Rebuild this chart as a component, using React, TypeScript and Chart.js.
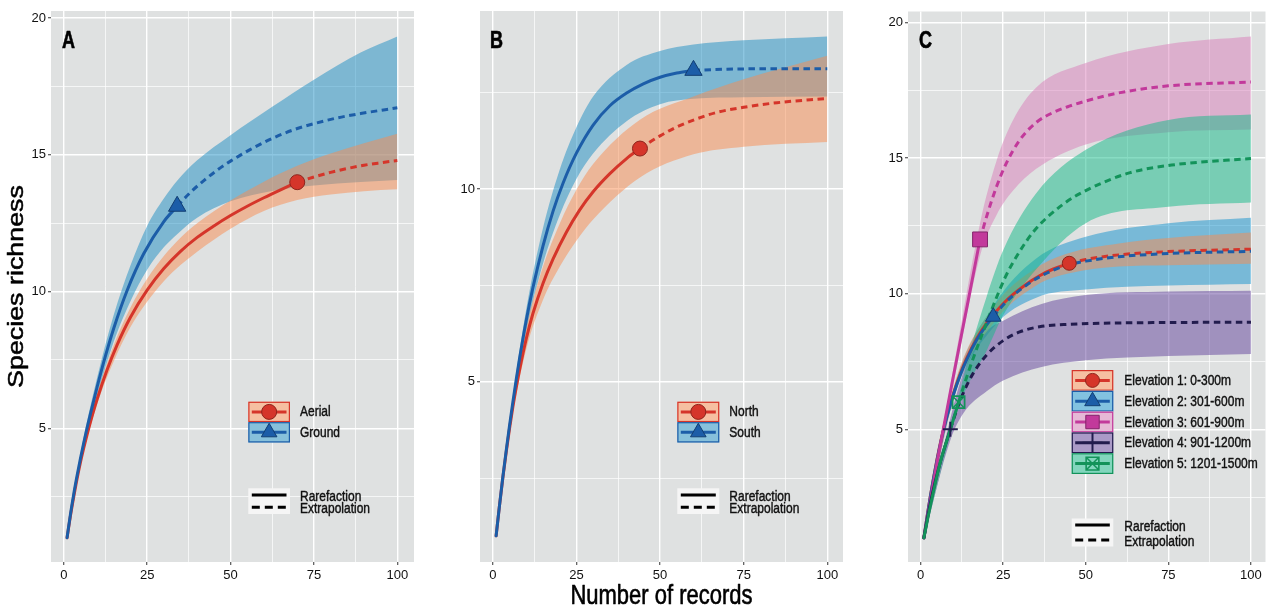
import React, { useEffect, useRef } from 'react';
import { Chart, registerables } from 'chart.js';

Chart.register(...registerables);

const FONT = "'Liberation Sans', Arial, Helvetica, sans-serif";
const TEXT_STRETCH = 1.22;
const PANEL_BG = '#DFE1E1';

// ---- tick values ----
const X_MAJOR = [0, 25, 50, 75, 100];
const X_MINOR = [12.5, 37.5, 62.5, 87.5];
const Y_MAJOR_AC = [5, 10, 15, 20];
const Y_MINOR_AC = [2.5, 7.5, 12.5, 17.5];
const Y_MAJOR_B = [5, 10];
const Y_MINOR_B = [2.5, 7.5, 12.5];

// ---- Panel A : Aerial / Ground ----
const aerialRareX = [1, 2, 3, 4, 5, 6, 7, 8, 10, 13, 16, 20, 25, 30, 35, 40, 45, 50, 55, 60, 65, 70];
const aerialRareY = [1, 1.79, 2.5, 3.16, 3.75, 4.28, 4.77, 5.23, 6.06, 7.14, 8.05, 9.06, 10.05, 10.84, 11.47, 11.98, 12.4, 12.78, 13.12, 13.43, 13.72, 14.0];
const aerialExtX = [70, 75, 80, 85, 90, 95, 100];
const aerialExtY = [14.0, 14.19, 14.36, 14.5, 14.62, 14.71, 14.79];
const aerialBandX = [1, 5, 10, 15, 20, 25, 30, 35, 40, 50, 60, 70, 80, 90, 100];
const aerialBandLo = [1, 3.65, 5.87, 7.45, 8.7, 9.63, 10.38, 10.97, 11.46, 12.3, 12.95, 13.35, 13.55, 13.67, 13.74];
const aerialBandHi = [1, 3.85, 6.25, 8.05, 9.42, 10.47, 11.3, 11.97, 12.5, 13.33, 14.02, 14.6, 15.05, 15.42, 15.77];

const groundRareX = [1, 2, 3, 4, 5, 6, 7, 8, 10, 12, 15, 19, 24, 30, 34];
const groundRareY = [1, 1.85, 2.6, 3.27, 3.89, 4.47, 5.02, 5.53, 6.51, 7.43, 8.66, 10.04, 11.39, 12.56, 13.12];
const groundExtX = [34, 38, 42, 46, 50, 56, 62.5, 69, 75, 82, 89, 100];
const groundExtY = [13.12, 13.63, 14.06, 14.44, 14.77, 15.2, 15.6, 15.92, 16.14, 16.35, 16.51, 16.72];
const groundBandX = [1, 5, 10, 15, 20, 25, 30, 34, 40, 50, 62.5, 75, 89, 100];
const groundBandLo = [1, 3.73, 6.17, 8.17, 9.65, 10.8, 11.62, 12.1, 12.7, 13.3, 13.68, 13.88, 14.01, 14.08];
const groundBandHi = [1, 4.05, 6.85, 9.15, 10.95, 12.4, 13.4, 14.05, 14.8, 15.72, 16.76, 17.75, 18.74, 19.33];

// ---- Panel B : North / South ----
const northRareX = [1, 2, 3, 4, 5, 6, 7, 8, 10, 12, 15, 18, 22, 26, 30, 35, 40, 44];
const northRareY = [1, 1.78, 2.5, 3.16, 3.78, 4.34, 4.84, 5.3, 6.11, 6.77, 7.55, 8.18, 8.88, 9.46, 9.93, 10.4, 10.79, 11.05];
const northExtX = [44, 50, 55, 60, 67, 75, 85, 100];
const northExtY = [11.05, 11.38, 11.61, 11.79, 11.99, 12.12, 12.24, 12.35];
const northBandX = [1, 5, 10, 15, 20, 25, 30, 44, 60, 75, 100];
const northBandLo = [1, 3.66, 5.84, 7.12, 7.98, 8.66, 9.21, 10.3, 10.9, 11.1, 11.22];
const northBandHi = [1, 3.9, 6.38, 7.98, 9.1, 9.98, 10.65, 11.8, 12.4, 12.85, 13.46];

const southRareX = [1, 2, 3, 4, 5, 6, 7, 8, 10, 12, 15, 18, 21, 25, 30, 35, 40, 45, 50, 55, 60];
const southRareY = [1, 1.78, 2.52, 3.2, 3.86, 4.47, 5.05, 5.6, 6.59, 7.44, 8.52, 9.42, 10.15, 10.93, 11.66, 12.16, 12.49, 12.73, 12.9, 13.01, 13.08];
const southExtX = [60, 70, 80, 100];
const southExtY = [13.08, 13.11, 13.12, 13.12];
const southBandX = [1, 5, 10, 15, 20, 25, 30, 40, 50, 60, 75, 100];
const southBandLo = [1, 3.74, 6.3, 8.06, 9.32, 10.26, 10.92, 11.76, 12.2, 12.34, 12.38, 12.4];
const southBandHi = [1, 3.98, 6.88, 8.98, 10.5, 11.6, 12.4, 13.22, 13.58, 13.75, 13.86, 13.96];

// ---- Panel C : Elevations ----
const e1RareX = [1, 2, 3, 4, 5, 6, 7, 8, 10, 12, 14, 17, 20, 22, 25, 28, 32, 36, 40, 45];
const e1RareY = [1, 1.82, 2.57, 3.26, 3.91, 4.5, 5.04, 5.51, 6.34, 7.04, 7.63, 8.35, 8.91, 9.22, 9.63, 9.97, 10.35, 10.66, 10.9, 11.12];
const e1ExtX = [45, 50, 60, 75, 100];
const e1ExtY = [11.12, 11.26, 11.43, 11.55, 11.64];
const e1BandX = [1, 10, 22, 35, 45, 60, 75, 100];
const e1BandLo = [1, 6.15, 8.9, 10.3, 10.75, 11.0, 11.05, 11.1];
const e1BandHi = [1, 6.55, 9.5, 10.95, 11.5, 11.85, 12.05, 12.25];

const e2RareX = [1, 2, 3, 4, 5, 6, 7, 8, 10, 12, 14, 17, 20, 22];
const e2RareY = [1, 1.8, 2.55, 3.24, 3.88, 4.47, 5.0, 5.48, 6.3, 7.0, 7.58, 8.3, 8.85, 9.15];
const e2ExtX = [22, 25, 28, 32, 36, 40, 45, 50, 60, 75, 100];
const e2ExtY = [9.15, 9.58, 9.93, 10.31, 10.62, 10.86, 11.07, 11.2, 11.36, 11.48, 11.56];
const e2BandX = [1, 10, 22, 35, 50, 75, 100];
const e2BandLo = [1, 6.1, 8.75, 9.85, 10.15, 10.3, 10.36];
const e2BandHi = [1, 6.5, 9.55, 11.3, 12.1, 12.6, 12.8];

const e3RareX = [1, 5, 10, 14.5, 18];
const e3RareY = [1, 3.8, 7.0, 9.8, 12];
const e3ExtX = [18, 20, 23, 26, 30, 35, 40, 45, 50, 60, 75, 100];
const e3ExtY = [12, 12.85, 13.95, 14.82, 15.66, 16.31, 16.67, 16.91, 17.1, 17.4, 17.66, 17.8];
const e3BandX = [1, 10, 18, 23, 28, 35, 50, 75, 100];
const e3BandLo = [1, 6.7, 11.4, 12.9, 13.8, 14.6, 15.5, 15.95, 16.05];
const e3BandHi = [1, 7.3, 12.6, 14.9, 16.4, 17.6, 18.5, 19.2, 19.48];

const e4RareX = [1, 3, 6, 9];
const e4RareY = [1, 2.3, 3.8, 5];
const e4ExtX = [9, 11, 13, 16, 20, 25, 30, 36, 45, 60, 80, 100];
const e4ExtY = [5, 5.74, 6.36, 7.08, 7.74, 8.27, 8.59, 8.78, 8.87, 8.92, 8.94, 8.95];
const e4BandX = [1, 9, 13, 20, 25, 36.6, 50, 75, 100];
const e4BandLo = [1, 4.6, 5.6, 6.4, 6.8, 7.3, 7.55, 7.7, 7.78];
const e4BandHi = [1, 5.4, 7.1, 8.6, 9.0, 9.62, 9.95, 10.08, 10.11];

const e5RareX = [1, 3, 6, 9, 11.5];
const e5RareY = [1, 2.2, 3.8, 5.0, 6.0];
const e5ExtX = [11.5, 15, 19.9, 25.6, 29.5, 34.4, 43.2, 50, 63.2, 76, 100];
const e5ExtY = [6, 7.3, 8.9, 10.6, 11.46, 12.32, 13.3, 13.8, 14.45, 14.74, 14.98];
const e5BandX = [1, 11.5, 15, 20, 25, 35, 50, 75, 100];
const e5BandLo = [1, 5.8, 6.8, 7.9, 9.2, 10.9, 12.6, 13.2, 13.36];
const e5BandHi = [1, 6.2, 7.9, 9.9, 11.6, 13.7, 15.3, 16.4, 16.6];

// ---- colours ----
const RED = '#D5352A', RED_DARK = '#8E241C', RED_FILL = 'rgba(249,139,79,0.5)';
const BLUE = '#1C5DA8', BLUE_DARK = '#123E72', BLUE_FILL_A = 'rgba(27,141,195,0.5)';
const BLUE_FILL_C = 'rgba(17,145,205,0.5)';
const MAGENTA = '#C2399B', MAGENTA_DARK = '#83246A', PINK_FILL = 'rgba(217,125,185,0.5)';
const NAVY = '#221C4E', PURPLE_FILL = 'rgba(97,65,155,0.5)';
const GREEN = '#13935A', TEAL_FILL = 'rgba(17,185,135,0.5)';

type MarkerKind = 'circle' | 'triangle' | 'rect' | 'cross' | 'rectX';

interface SeriesSpec {
  label: string; line: string; dark: string; fill: string;
  marker: MarkerKind; plotR: number; legendR: number;
  rareX: number[]; rareY: number[]; extX: number[]; extY: number[];
  bandX: number[]; bandLo: number[]; bandHi: number[];
}

interface LegendSpec {
  boxX: number; boxW: number; rowTop: number; rowH: number; textX: number;
  ltY: number; ltH: number; solidY: number; dashY: number; rarefTextY: number; extrapTextY: number;
}

interface PanelSpec {
  letter: string; letterX: number; left: number; width: number; yAxisW: number; padRight: number;
  xMin: number; xMax: number; yMin: number; yMax: number;
  yMajor: number[]; yMinor: number[];
  series: SeriesSpec[]; ribbonOrder: number[];
  legend: LegendSpec;
  yTitle?: string; xTitle?: string;
}

const PANELS: PanelSpec[] = [
  {
    letter: 'A', letterX: 62, left: 0, width: 425, yAxisW: 51, padRight: 4,
    xMin: -3.82, xMax: 105, yMin: 0.11, yMax: 20.26,
    yMajor: Y_MAJOR_AC, yMinor: Y_MINOR_AC,
    series: [
      { label: 'Aerial', line: RED, dark: RED_DARK, fill: RED_FILL, marker: 'circle', plotR: 7.5, legendR: 7.5,
        rareX: aerialRareX, rareY: aerialRareY, extX: aerialExtX, extY: aerialExtY,
        bandX: aerialBandX, bandLo: aerialBandLo, bandHi: aerialBandHi },
      { label: 'Ground', line: BLUE, dark: BLUE_DARK, fill: BLUE_FILL_A, marker: 'triangle', plotR: 10, legendR: 9,
        rareX: groundRareX, rareY: groundRareY, extX: groundExtX, extY: groundExtY,
        bandX: groundBandX, bandLo: groundBandLo, bandHi: groundBandHi },
    ],
    ribbonOrder: [1, 0],
    legend: { boxX: 248.3, boxW: 41.7, rowTop: 401.7, rowH: 20.4, textX: 300,
      ltY: 488.3, ltH: 25.7, solidY: 495, dashY: 507.3, rarefTextY: 496.5, extrapTextY: 508.5 },
    yTitle: 'Species richness',
  },
  {
    letter: 'B', letterX: 490, left: 430, width: 424, yAxisW: 50, padRight: 5,
    xMin: -3.82, xMax: 104.7, yMin: 0.32, yMax: 14.62,
    yMajor: Y_MAJOR_B, yMinor: Y_MINOR_B,
    series: [
      { label: 'North', line: RED, dark: RED_DARK, fill: RED_FILL, marker: 'circle', plotR: 7.5, legendR: 7.5,
        rareX: northRareX, rareY: northRareY, extX: northExtX, extY: northExtY,
        bandX: northBandX, bandLo: northBandLo, bandHi: northBandHi },
      { label: 'South', line: BLUE, dark: BLUE_DARK, fill: BLUE_FILL_A, marker: 'triangle', plotR: 10, legendR: 9,
        rareX: southRareX, rareY: southRareY, extX: southExtX, extY: southExtY,
        bandX: southBandX, bandLo: southBandLo, bandHi: southBandHi },
    ],
    ribbonOrder: [1, 0],
    legend: { boxX: 677.3, boxW: 42, rowTop: 401.7, rowH: 20.4, textX: 729.3,
      ltY: 488.3, ltH: 25.7, solidY: 495, dashY: 507.3, rarefTextY: 496.5, extrapTextY: 508.5 },
    xTitle: 'Number of records',
  },
  {
    letter: 'C', letterX: 919, left: 860, width: 417, yAxisW: 48, padRight: 0,
    xMin: -3.81, xMax: 104.4, yMin: 0.11, yMax: 20.4,
    yMajor: Y_MAJOR_AC, yMinor: Y_MINOR_AC,
    series: [
      { label: 'Elevation 1: 0-300m', line: RED, dark: RED_DARK, fill: RED_FILL, marker: 'circle', plotR: 7, legendR: 7,
        rareX: e1RareX, rareY: e1RareY, extX: e1ExtX, extY: e1ExtY, bandX: e1BandX, bandLo: e1BandLo, bandHi: e1BandHi },
      { label: 'Elevation 2: 301-600m', line: BLUE, dark: BLUE_DARK, fill: BLUE_FILL_C, marker: 'triangle', plotR: 9, legendR: 9,
        rareX: e2RareX, rareY: e2RareY, extX: e2ExtX, extY: e2ExtY, bandX: e2BandX, bandLo: e2BandLo, bandHi: e2BandHi },
      { label: 'Elevation 3: 601-900m', line: MAGENTA, dark: MAGENTA_DARK, fill: PINK_FILL, marker: 'rect', plotR: 10.5, legendR: 9.5,
        rareX: e3RareX, rareY: e3RareY, extX: e3ExtX, extY: e3ExtY, bandX: e3BandX, bandLo: e3BandLo, bandHi: e3BandHi },
      { label: 'Elevation 4: 901-1200m', line: NAVY, dark: NAVY, fill: PURPLE_FILL, marker: 'cross', plotR: 7.5, legendR: 10,
        rareX: e4RareX, rareY: e4RareY, extX: e4ExtX, extY: e4ExtY, bandX: e4BandX, bandLo: e4BandLo, bandHi: e4BandHi },
      { label: 'Elevation 5: 1201-1500m', line: GREEN, dark: GREEN, fill: TEAL_FILL, marker: 'rectX', plotR: 8.5, legendR: 9,
        rareX: e5RareX, rareY: e5RareY, extX: e5ExtX, extY: e5ExtY, bandX: e5BandX, bandLo: e5BandLo, bandHi: e5BandHi },
    ],
    ribbonOrder: [2, 1, 0, 3, 4],
    legend: { boxX: 1071.7, boxW: 41.6, rowTop: 370, rowH: 20.8, textX: 1124.3,
      ltY: 518.5, ltH: 28, solidY: 525, dashY: 540, rarefTextY: 526.5, extrapTextY: 541.5 },
  },
];

const pts = (xs: number[], ys: number[]) => xs.map((x, i) => ({ x, y: ys[i] }));

function stretchedText(ctx: CanvasRenderingContext2D, text: string, x: number, y: number, font: string,
  align: CanvasTextAlign, color: string, stretch: number, rotate = false, weight = 0.35) {
  ctx.save();
  ctx.translate(x, y);
  ctx.scale(1, stretch);
  if (rotate) ctx.rotate(-Math.PI / 2);
  ctx.font = font;
  ctx.fillStyle = color;
  ctx.strokeStyle = color;
  ctx.lineWidth = weight;
  ctx.lineJoin = 'round';
  ctx.textAlign = align;
  ctx.textBaseline = 'middle';
  ctx.fillText(text, 0, 0);
  if (weight > 0) ctx.strokeText(text, 0, 0);
  ctx.restore();
}

function drawMarker(ctx: CanvasRenderingContext2D, kind: MarkerKind, x: number, y: number, r: number, fillC: string, strokeC: string) {
  ctx.save();
  ctx.lineWidth = 1;
  ctx.fillStyle = fillC;
  ctx.strokeStyle = strokeC;
  ctx.setLineDash([]);
  ctx.beginPath();
  if (kind === 'circle') {
    ctx.arc(x, y, r, 0, Math.PI * 2); ctx.fill(); ctx.stroke();
  } else if (kind === 'triangle') {
    ctx.moveTo(x, y - r); ctx.lineTo(x + r * 0.866, y + r * 0.5); ctx.lineTo(x - r * 0.866, y + r * 0.5);
    ctx.closePath(); ctx.fill(); ctx.stroke();
  } else if (kind === 'rect') {
    const h = r * Math.SQRT1_2; ctx.rect(x - h, y - h, 2 * h, 2 * h); ctx.fill(); ctx.stroke();
  } else if (kind === 'cross') {
    ctx.lineWidth = 2; ctx.strokeStyle = fillC;
    ctx.moveTo(x, y - r); ctx.lineTo(x, y + r); ctx.moveTo(x - r, y); ctx.lineTo(x + r, y); ctx.stroke();
  } else {
    const h = r * Math.SQRT1_2; ctx.lineWidth = 1.6; ctx.strokeStyle = fillC;
    ctx.rect(x - h, y - h, 2 * h, 2 * h);
    ctx.moveTo(x - h, y - h); ctx.lineTo(x + h, y + h); ctx.moveTo(x + h, y - h); ctx.lineTo(x - h, y + h);
    ctx.stroke();
  }
  ctx.restore();
}

function makeDecor(spec: PanelSpec) {
  return {
    id: 'decor' + spec.letter,
    beforeDraw(chart: any) {
      const { ctx, chartArea: a } = chart;
      ctx.save();
      ctx.fillStyle = PANEL_BG;
      ctx.fillRect(a.left, a.top, a.right - a.left, a.bottom - a.top);
      ctx.restore();
    },
    afterDraw(chart: any) {
      const ctx: CanvasRenderingContext2D = chart.ctx;
      const a = chart.chartArea;
      const off = spec.left;
      stretchedText(ctx, spec.letter, spec.letterX - off, 42, `bold 18px ${FONT}`, 'left', '#000', 1.3, false, 0.5);
      if (spec.yTitle) {
        stretchedText(ctx, spec.yTitle, 16.7, (a.top + a.bottom) / 2, `22px ${FONT}`, 'center', '#000', TEXT_STRETCH, true, 0.5);
      }
      if (spec.xTitle) {
        stretchedText(ctx, spec.xTitle, (a.left + a.right) / 2, 597, `22px ${FONT}`, 'center', '#000', TEXT_STRETCH, false, 0.5);
      }
      const L = spec.legend;
      const bx = L.boxX - off;
      spec.series.forEach((s, i) => {
        const top = L.rowTop + i * L.rowH;
        ctx.save();
        ctx.fillStyle = '#F2F2F2';
        ctx.fillRect(bx, top, L.boxW, L.rowH);
        ctx.fillStyle = s.fill;
        ctx.fillRect(bx, top, L.boxW, L.rowH);
        ctx.strokeStyle = s.line;
        ctx.lineWidth = 1.2;
        ctx.strokeRect(bx + 0.6, top + 0.6, L.boxW - 1.2, L.rowH - 1.2);
        const cy = top + L.rowH / 2;
        ctx.lineWidth = 3;
        ctx.beginPath();
        ctx.moveTo(bx + 3.5, cy);
        ctx.lineTo(bx + L.boxW - 3.5, cy);
        ctx.stroke();
        ctx.restore();
        drawMarker(ctx, s.marker, bx + L.boxW / 2, cy, s.legendR, s.line, s.dark);
        stretchedText(ctx, s.label, L.textX - off, cy + 0.5, `12px ${FONT}`, 'left', '#111', TEXT_STRETCH);
      });
      ctx.save();
      ctx.fillStyle = '#F5F5F5';
      ctx.fillRect(bx, L.ltY, L.boxW, L.ltH);
      ctx.strokeStyle = '#000';
      ctx.lineWidth = 3;
      ctx.lineCap = 'butt';
      ctx.beginPath();
      ctx.moveTo(bx + 3.5, L.solidY);
      ctx.lineTo(bx + L.boxW - 3.5, L.solidY);
      ctx.stroke();
      ctx.setLineDash([8, 5]);
      ctx.beginPath();
      ctx.moveTo(bx + 3.5, L.dashY);
      ctx.lineTo(bx + L.boxW - 3.5, L.dashY);
      ctx.stroke();
      ctx.restore();
      stretchedText(ctx, 'Rarefaction', L.textX - off, L.rarefTextY, `12px ${FONT}`, 'left', '#111', TEXT_STRETCH);
      stretchedText(ctx, 'Extrapolation', L.textX - off, L.extrapTextY, `12px ${FONT}`, 'left', '#111', TEXT_STRETCH);
    },
  };
}

function buildConfig(spec: PanelSpec): any {
  const datasets: any[] = [];
  const transparent = 'rgba(0,0,0,0)';
  spec.ribbonOrder.forEach((si, k) => {
    const s = spec.series[si];
    const idx = datasets.length;
    datasets.push({
      data: pts(s.bandX, s.bandHi), fill: idx + 1, backgroundColor: s.fill,
      borderColor: transparent, borderWidth: 0, pointRadius: 0, cubicInterpolationMode: 'monotone', order: 1000 - k,
    });
    datasets.push({
      data: pts(s.bandX, s.bandLo), fill: false, backgroundColor: transparent,
      borderColor: transparent, borderWidth: 0, pointRadius: 0, cubicInterpolationMode: 'monotone', order: 1000 - k,
    });
  });
  spec.series.forEach((s, i) => {
    datasets.push({
      data: pts(s.rareX, s.rareY), fill: false, borderColor: s.line, borderWidth: 3, pointRadius: 0,
      cubicInterpolationMode: 'monotone', borderCapStyle: 'round', order: 500 - i,
    });
    datasets.push({
      data: pts(s.extX, s.extY), fill: false, borderColor: s.line, borderWidth: 3, borderDash: [6.5, 4.5],
      pointRadius: 0, cubicInterpolationMode: 'monotone', borderCapStyle: 'butt', order: 500 - i,
    });
  });
  spec.series.forEach((s, i) => {
    const ref = [{ x: s.rareX[s.rareX.length - 1], y: s.rareY[s.rareY.length - 1] }];
    const base = { data: ref, showLine: false, fill: false, borderColor: transparent, order: 10 - i, pointHoverRadius: s.plotR };
    if (s.marker === 'rectX') {
      datasets.push({ ...base, pointStyle: 'rect', pointRadius: s.plotR, pointBackgroundColor: transparent, pointBorderColor: s.line, pointBorderWidth: 1.8 });
      datasets.push({ ...base, pointStyle: 'crossRot', pointRadius: s.plotR, pointBackgroundColor: transparent, pointBorderColor: s.line, pointBorderWidth: 1.5 });
    } else if (s.marker === 'cross') {
      datasets.push({ ...base, pointStyle: 'cross', pointRadius: s.plotR, pointBackgroundColor: transparent, pointBorderColor: s.line, pointBorderWidth: 2 });
    } else {
      datasets.push({ ...base, pointStyle: s.marker, pointRadius: s.plotR, pointBackgroundColor: s.line, pointBorderColor: s.dark, pointBorderWidth: 1 });
    }
  });

  const xMajorSet = new Set(X_MAJOR);
  const yMajorSet = new Set(spec.yMajor);
  const tickFont = { family: FONT, size: 13 };

  return {
    type: 'line',
    data: { datasets },
    plugins: [makeDecor(spec)],
    options: {
      responsive: false,
      maintainAspectRatio: false,
      animation: false,
      devicePixelRatio: 1,
      events: [],
      layout: { padding: { left: 0, right: spec.padRight, top: 10, bottom: 0 } },
      plugins: { legend: { display: false }, tooltip: { enabled: false }, title: { display: false } },
      scales: {
        x: {
          type: 'linear', min: spec.xMin, max: spec.xMax,
          afterBuildTicks: (axis: any) => {
            axis.ticks = [...X_MAJOR, ...X_MINOR].sort((p, q) => p - q).map((value) => ({ value }));
          },
          afterFit: (axis: any) => { axis.height = 49; },
          border: { display: false },
          grid: {
            color: '#FFFFFF',
            lineWidth: (c: any) => (c.tick && xMajorSet.has(c.tick.value) ? 1.4 : 0.7),
            drawTicks: true, tickLength: 3, tickWidth: 1.2,
            tickColor: (c: any) => (c.tick && xMajorSet.has(c.tick.value) ? '#555' : 'rgba(0,0,0,0)'),
          },
          ticks: {
            autoSkip: false, maxRotation: 0, minRotation: 0, padding: 3, color: '#111', font: tickFont,
            callback: (v: any) => (xMajorSet.has(Number(v)) ? String(v) : ''),
          },
        },
        y: {
          type: 'linear', min: spec.yMin, max: spec.yMax,
          afterBuildTicks: (axis: any) => {
            axis.ticks = [...spec.yMajor, ...spec.yMinor].sort((p, q) => p - q).map((value) => ({ value }));
          },
          afterFit: (axis: any) => { axis.width = spec.yAxisW; },
          border: { display: false },
          grid: {
            color: '#FFFFFF',
            lineWidth: (c: any) => (c.tick && yMajorSet.has(c.tick.value) ? 1.4 : 0.7),
            drawTicks: true, tickLength: 3, tickWidth: 1.2,
            tickColor: (c: any) => (c.tick && yMajorSet.has(c.tick.value) ? '#555' : 'rgba(0,0,0,0)'),
          },
          ticks: {
            autoSkip: false, padding: 2, color: '#111', font: tickFont,
            callback: (v: any) => (yMajorSet.has(Number(v)) ? String(v) : ''),
          },
        },
      },
    },
  };
}

function Panel({ spec }: { spec: PanelSpec }) {
  const ref = useRef<HTMLCanvasElement>(null);
  useEffect(() => {
    if (!ref.current) return;
    const chart = new Chart(ref.current, buildConfig(spec));
    return () => chart.destroy();
  }, [spec]);
  return (
    <canvas
      ref={ref}
      width={spec.width}
      height={611}
      style={{ position: 'absolute', left: spec.left, top: 0, width: spec.width, height: 611 }}
    />
  );
}

export default function App() {
  return (
    <div style={{ position: 'absolute', left: 0, top: 0, width: 1277, height: 611, background: '#FFFFFF', overflow: 'hidden' }}>
      {PANELS.map((p) => (
        <Panel key={p.letter} spec={p} />
      ))}
    </div>
  );
}
